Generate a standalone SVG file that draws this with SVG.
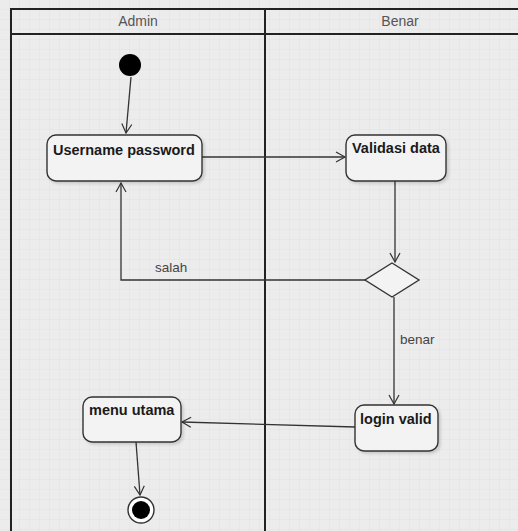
<svg xmlns="http://www.w3.org/2000/svg" width="518" height="531" viewBox="0 0 518 531">
  <defs>
    <pattern id="grid" width="10" height="10" patternUnits="userSpaceOnUse">
      <path d="M10 0 V10 M0 10 H10" fill="none" stroke="#dcdcdc" stroke-width="0.6"/>
    </pattern>
    <marker id="arrow" markerWidth="12" markerHeight="12" refX="10" refY="6" orient="auto" markerUnits="userSpaceOnUse">
      <path d="M1 1 L10 6 L1 11" fill="none" stroke="#333" stroke-width="1.2"/>
    </marker>
    <filter id="shadow" x="-10%" y="-10%" width="130%" height="140%">
      <feDropShadow dx="2" dy="2" stdDeviation="1.5" flood-color="#000" flood-opacity="0.15"/>
    </filter>
  </defs>
  <style>
    .lane { fill: none; stroke: #222; stroke-width: 2; }
    .head { font-family: "Liberation Sans", Arial, sans-serif; font-size: 14px; fill: #555; text-anchor: middle; }
    .act rect { fill: #f3f3f3; stroke: #333; stroke-width: 1.4; filter: url(#shadow); }
    .act text { font-family: "Liberation Sans", Arial, sans-serif; font-size: 14.5px; font-weight: bold; fill: #1a1a1a; }
    .edge { fill: none; stroke: #333; stroke-width: 1.3; }
    .lbl { font-family: "Liberation Sans", Arial, sans-serif; font-size: 13.5px; fill: #444; }
  </style>

  <!-- canvas -->
  <rect width="518" height="531" fill="#ececec"/>
  <rect width="518" height="531" fill="url(#grid)"/>

  <!-- swimlanes -->
  <g id="lanes">
    <path class="lane" d="M11 531 V9 H518 M11 34 H518 M265 9 V531"/>
    <text class="head" x="138" y="26">Admin</text>
    <text class="head" x="400" y="26">Benar</text>
  </g>

  <!-- connectors -->
  <g id="connectors">
    <path class="edge" d="M131 77 L126 133" marker-end="url(#arrow)"/>
    <path class="edge" d="M202 157 H345" marker-end="url(#arrow)"/>
    <path class="edge" d="M395 181 V262" marker-end="url(#arrow)"/>
    <path class="edge" d="M365 280 H121 V183" marker-end="url(#arrow)"/>
    <text class="lbl" x="155" y="272">salah</text>
    <path class="edge" d="M394 297 V404" marker-end="url(#arrow)"/>
    <text class="lbl" x="400" y="344">benar</text>
    <path class="edge" d="M355 427 L182 422" marker-end="url(#arrow)"/>
    <path class="edge" d="M136 442 L140 495" marker-end="url(#arrow)"/>
  </g>

  <!-- initial node -->
  <g id="start">
    <circle cx="130" cy="65" r="11" fill="#000"/>
  </g>

  <!-- activities -->
  <g id="username-password" class="act">
    <rect x="47" y="135" width="155" height="46" rx="9"/>
    <text x="53" y="155">Username password</text>
  </g>
  <g id="validasi-data" class="act">
    <rect x="346" y="135" width="100" height="46" rx="9"/>
    <text x="352" y="153">Validasi data</text>
  </g>
  <g id="decision">
    <polygon points="392,263 419,280 392,297 365,280" fill="#f3f3f3" stroke="#333" stroke-width="1.4"/>
  </g>
  <g id="login-valid" class="act">
    <rect x="355" y="405" width="83" height="46" rx="9"/>
    <text x="360" y="424">login valid</text>
  </g>
  <g id="menu-utama" class="act">
    <rect x="83" y="397" width="98" height="45" rx="9"/>
    <text x="89" y="415">menu utama</text>
  </g>

  <!-- final node -->
  <g id="end">
    <circle cx="141" cy="510" r="13" fill="#fff" stroke="#333" stroke-width="1.4"/>
    <circle cx="141" cy="510" r="9" fill="#000"/>
  </g>
</svg>
